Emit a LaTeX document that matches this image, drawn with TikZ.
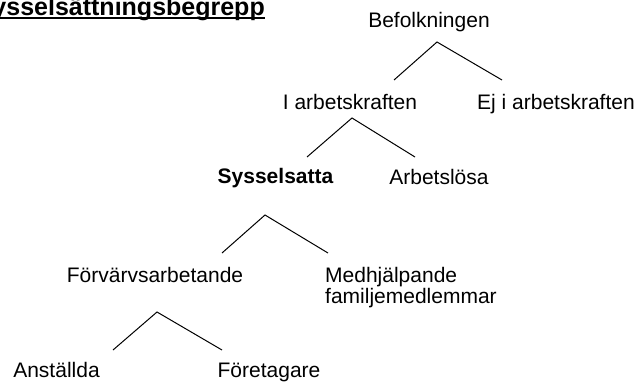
\documentclass[tikz,border=0pt]{standalone}
\usepackage{fontspec}
\setmainfont{Liberation Sans}
\usetikzlibrary{positioning,calc}
\tikzset{
	x = 1pt,
	y = -1pt
}

\begin{document}
\begin{tikzpicture}[
	every node/.style = {
		font = \fontsize{21}{21}\selectfont,
		inner sep = 0pt,
		anchor = base
	},
	term/.style = {},
	heading/.style = {
		font = \fontsize{25}{25}\selectfont\bfseries,
		anchor = base east
	},
	fork/.style = {
		line width = 1pt
	}
	]

	\useasboundingbox (0,0) rectangle (638,383);

	\node[heading] (title) at (265,15) {Sysselsättningsbegrepp};
	\draw[line width = 2pt] ($(title.base west)+(0,3)$) -- ($(title.base east)+(0,3)$);

	\node[term] (pop) at (429,27) {Befolkningen};
	\node[term] (labour) at (350,109) {I arbetskraften};
	\node[term] (notlabour) at (556,109) {Ej i arbetskraften};
	\node[term, font = \fontsize{21}{21}\selectfont\bfseries] (employed) at (275.5,183) {Sysselsatta};
	\node[term] (unemployed) at (439,184) {Arbetslösa};
	\node[term] (gainful) at (155,282) {Förvärvsarbetande};
	\node[term, anchor = base west, align = left] (helping) at (325,303) {Medhjälpande\\familjemedlemmar};
	\node[term] (staff) at (56.5,377) {Anställda};
	\node[term] (owners) at (269,377) {Företagare};

	\coordinate (pop-top) at (437,42);
	\coordinate (pop-left) at (394,80);
	\coordinate (pop-right) at (502,80);
	\coordinate (labour-top) at (352,118);
	\coordinate (labour-left) at (307,157);
	\coordinate (labour-right) at (415,157);
	\coordinate (employed-top) at (265,215);
	\coordinate (employed-left) at (222,253);
	\coordinate (employed-right) at (328,253);
	\coordinate (gainful-top) at (157,312);
	\coordinate (gainful-left) at (113,350);
	\coordinate (gainful-right) at (222,350);

	\draw[fork] (pop-left) -- (pop-top) -- (pop-right);
	\draw[fork] (labour-left) -- (labour-top) -- (labour-right);
	\draw[fork] (employed-left) -- (employed-top) -- (employed-right);
	\draw[fork] (gainful-left) -- (gainful-top) -- (gainful-right);

\end{tikzpicture}
\end{document}
